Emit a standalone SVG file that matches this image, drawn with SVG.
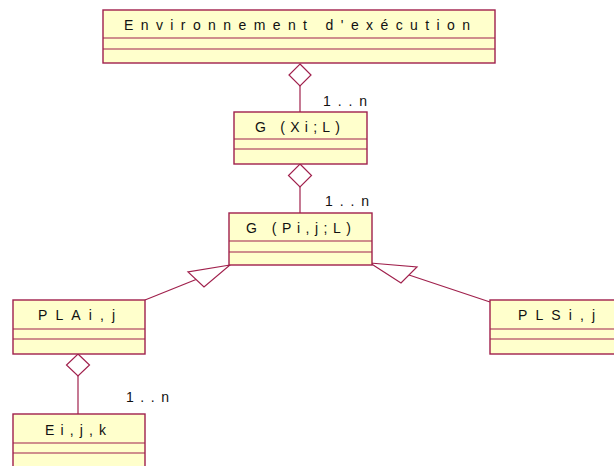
<svg xmlns="http://www.w3.org/2000/svg" width="614" height="466" viewBox="0 0 614 466">
<style>
.box{fill:#FFFFCC;stroke:#A0204C;stroke-width:1.4}
.div{stroke:#A0204C;stroke-width:1.2}
.ln{stroke:#A0204C;stroke-width:1.2;fill:none}
.hd{fill:#FFFFFF;stroke:#A0204C;stroke-width:1.2}
text{font-family:"Liberation Sans",Arial,sans-serif;font-size:14px;fill:#111}
</style>
<rect width="614" height="466" fill="#FFFFFF"/>
<g id="connectors">
  <line class="ln" x1="300" y1="86" x2="300" y2="112"/>
  <polygon class="hd" points="300,64 311,75 300,86 289,75"/>
  <line class="ln" x1="300" y1="187" x2="300" y2="213"/>
  <polygon class="hd" points="300,164 311.5,175.5 300,187 288.5,175.5"/>
  <line class="ln" x1="145" y1="300" x2="196" y2="279.5"/>
  <polygon class="hd" points="230,265 188,272 204,287"/>
  <line class="ln" x1="409" y1="275" x2="490" y2="302"/>
  <polygon class="hd" points="370,263 417,267 401,283"/>
  <line class="ln" x1="78" y1="376" x2="78" y2="414"/>
  <polygon class="hd" points="78,354 89.5,365 78,376 66.5,365"/>
  <text x="323" y="106" textLength="44" lengthAdjust="spacing">1..n</text>
  <text x="325" y="206" textLength="44" lengthAdjust="spacing">1..n</text>
  <text x="126" y="402" textLength="43" lengthAdjust="spacing">1..n</text>
</g>
<g id="env">
  <rect class="box" x="103" y="10" width="392" height="53"/>
  <line class="div" x1="103" y1="38" x2="495" y2="38"/>
  <line class="div" x1="103" y1="49" x2="495" y2="49"/>
  <text x="124" y="30" textLength="346" lengthAdjust="spacing">Environnement d'exécution</text>
</g>
<g id="gxi">
  <rect class="box" x="234" y="112" width="133" height="52"/>
  <line class="div" x1="234" y1="139" x2="367" y2="139"/>
  <line class="div" x1="234" y1="149" x2="367" y2="149"/>
  <text x="255" y="132" textLength="85" lengthAdjust="spacing">G (Xi;L)</text>
</g>
<g id="gpij">
  <rect class="box" x="229" y="213" width="143" height="52"/>
  <line class="div" x1="229" y1="241" x2="372" y2="241"/>
  <line class="div" x1="229" y1="252" x2="372" y2="252"/>
  <text x="246" y="233" textLength="105" lengthAdjust="spacing">G (Pi,j;L)</text>
</g>
<g id="pla">
  <rect class="box" x="13" y="300" width="132" height="54"/>
  <line class="div" x1="13" y1="329" x2="145" y2="329"/>
  <line class="div" x1="13" y1="339" x2="145" y2="339"/>
  <text x="38" y="320" textLength="77" lengthAdjust="spacing">PLAi,j</text>
</g>
<g id="pls">
  <rect class="box" x="490" y="300" width="130" height="54"/>
  <line class="div" x1="490" y1="329" x2="620" y2="329"/>
  <line class="div" x1="490" y1="339" x2="620" y2="339"/>
  <text x="518" y="320" textLength="77" lengthAdjust="spacing">PLSi,j</text>
</g>
<g id="eijk">
  <rect class="box" x="13" y="414" width="132" height="54"/>
  <line class="div" x1="13" y1="443" x2="145" y2="443"/>
  <line class="div" x1="13" y1="453" x2="145" y2="453"/>
  <text x="45" y="435" textLength="61" lengthAdjust="spacing">Ei,j,k</text>
</g>
</svg>
